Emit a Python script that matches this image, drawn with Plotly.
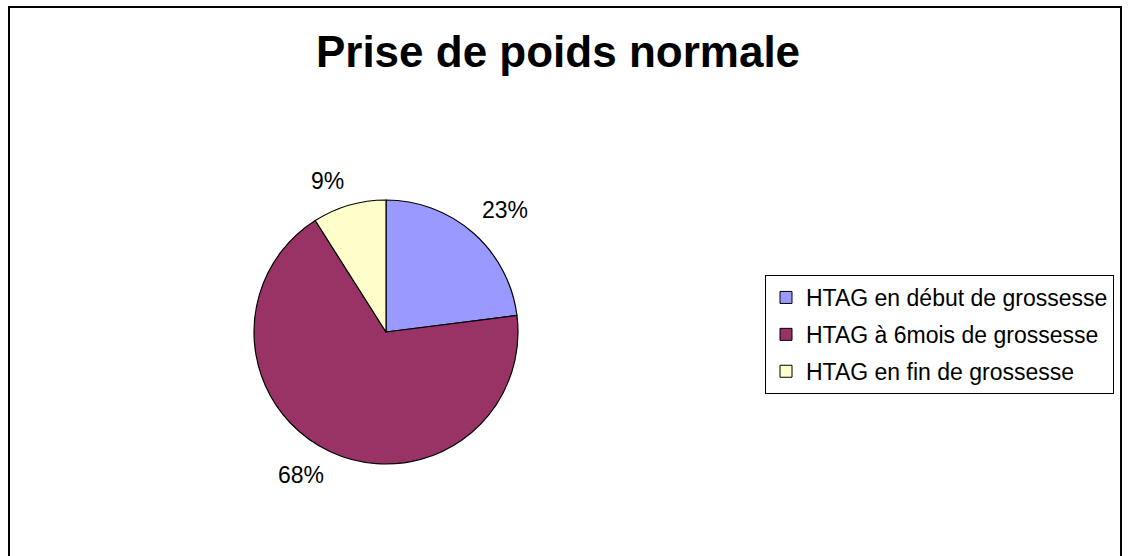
import math
import plotly.graph_objects as go

# Weight gain breakdown by timing of gestational hypertension
title_text = "Prise de poids normale"
categories = [
    "HTAG en début de grossesse",
    "HTAG à 6mois de grossesse",
    "HTAG en fin de grossesse",
]
percentages = [23, 68, 9]
colors = ["#9999FF", "#993366", "#FFFFCC"]

W, H = 1129, 556
cx_px, cy_px, r_px = 386, 332, 132
label_r_px = 142

fig = go.Figure()

fig.add_trace(go.Pie(
    values=percentages,
    labels=categories,
    sort=False,
    direction="clockwise",
    rotation=0,
    marker=dict(colors=colors, line=dict(color="black", width=1.2)),
    textinfo="none",
    hoverinfo="label+percent",
    showlegend=False,
    domain=dict(
        x=[(cx_px - r_px) / W, (cx_px + r_px) / W],
        y=[1 - (cy_px + r_px) / H, 1 - (cy_px - r_px) / H],
    ),
))

# Legend entries: one square marker per category, each in its own group
for name, col in zip(categories, colors):
    fig.add_trace(go.Scatter(
        x=[None], y=[None], mode="markers", name=name,
        legendgroup=name,
        marker=dict(symbol="square", size=12, color=col,
                    line=dict(color="black", width=1)),
    ))

# Percentage labels just outside each slice; the text box extends outward
# from the point on the slice's mid-angle
total = sum(percentages)
cum = 0
annotations = []
for v in percentages:
    mid = (cum + v / 2) / total * 2 * math.pi
    cum += v
    sx, sy = math.sin(mid), math.cos(mid)
    lx = cx_px + label_r_px * sx
    ly = cy_px - label_r_px * sy
    annotations.append(dict(
        x=lx / W, y=1 - ly / H, xref="paper", yref="paper",
        text=f"{round(v / total * 100)}%", showarrow=False,
        font=dict(size=23, color="black", family="Liberation Sans, Arial, sans-serif"),
        xanchor="left" if sx >= 0 else "right",
        yanchor="bottom" if sy >= 0 else "top",
    ))

fig.update_layout(
    width=W, height=H,
    margin=dict(l=0, r=0, t=0, b=0),
    paper_bgcolor="white", plot_bgcolor="white",
    font=dict(family="Liberation Sans, Arial, sans-serif", color="black"),
    title=dict(text=f"<b>{title_text}</b>", x=558 / W, xanchor="center",
               y=1 - 52 / H, yanchor="middle",
               font=dict(size=44, color="black")),
    xaxis=dict(visible=False), yaxis=dict(visible=False),
    legend=dict(
        x=765 / W, y=1 - 275 / H, xanchor="left", yanchor="top",
        bordercolor="black", borderwidth=1, bgcolor="white",
        font=dict(size=23, color="black"), tracegroupgap=4,
    ),
    annotations=annotations,
    shapes=[dict(type="rect", xref="paper", yref="paper",
                 x0=9 / W, x1=1121 / W, y0=-0.1, y1=1 - 7 / H,
                 line=dict(color="black", width=2), fillcolor="rgba(0,0,0,0)")],
)

fig.write_html("out.html")
